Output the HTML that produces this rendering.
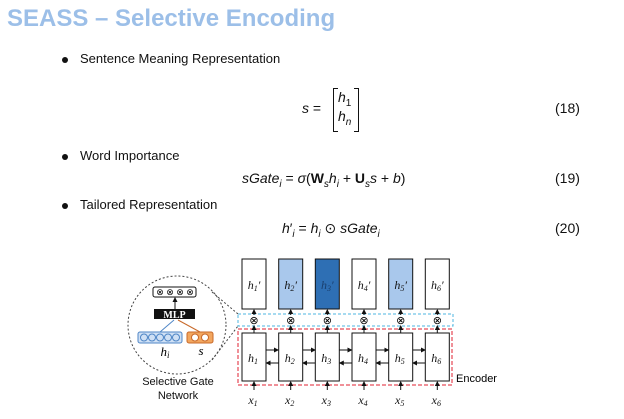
<!DOCTYPE html>
<html><head><style>
body{margin:0;width:624px;height:419px;background:#fff;overflow:hidden;position:relative;font-family:"Liberation Sans",sans-serif;}
.a{position:absolute;white-space:nowrap;}
.t{left:7px;top:5px;font-size:24px;font-weight:bold;color:#9cbfe8;}
.b{font-size:13px;color:#111;}
.dot{position:absolute;width:6px;height:6px;border-radius:50%;background:#111;}
.m{font-family:"Liberation Sans",sans-serif;font-size:14px;color:#111;}
</style></head><body>
<div class="a t">SEASS – Selective Encoding</div>
<div class="dot" style="left:62px;top:57px"></div><div class="a b" style="left:80px;top:51px">Sentence Meaning Representation</div>
<div class="dot" style="left:62px;top:154px"></div><div class="a b" style="left:80px;top:148px">Word Importance</div>
<div class="dot" style="left:62px;top:203px"></div><div class="a b" style="left:80px;top:197px">Tailored Representation</div>
<div class="a m" style="left:302px;top:100px"><i>s</i> =</div>
<div class="a" style="left:333px;top:88px;width:4px;height:42px;border:1px solid #111;border-right:none;"></div>
<div class="a" style="left:354px;top:88px;width:4px;height:42px;border:1px solid #111;border-left:none;"></div>
<div class="a m" style="left:338px;top:89px"><i>h</i><sub style="font-size:10px">1</sub></div>
<div class="a m" style="left:338px;top:108px"><i>h</i><sub style="font-size:10px"><i>n</i></sub></div>
<div class="a m" style="left:555px;top:100px">(18)</div>
<div class="a m" style="left:242px;top:170px"><i>sGate<sub style="font-size:10px">i</sub></i> = <i>σ</i>(<b>W</b><sub style="font-size:10px"><i>s</i></sub><i>h<sub style="font-size:10px">i</sub></i> + <b>U</b><sub style="font-size:10px"><i>s</i></sub><i>s</i> + <i>b</i>)</div>
<div class="a m" style="left:555px;top:170px">(19)</div>
<div class="a m" style="left:282px;top:220px"><i>h</i>′<sub style="font-size:10px"><i>i</i></sub> = <i>h<sub style="font-size:10px">i</sub></i> ⊙ <i>sGate<sub style="font-size:10px">i</sub></i></div>
<div class="a m" style="left:555px;top:220px">(20)</div>
<svg class="a" style="left:0;top:0" width="624" height="419" font-family="Liberation Serif,serif">
<defs><marker id="ar" markerWidth="5" markerHeight="5" refX="4" refY="2.5" orient="auto"><path d="M0,0L5,2.5L0,5z" fill="#111"/></marker></defs>
<circle cx="177" cy="325" r="49" fill="none" stroke="#444" stroke-dasharray="2,2"/>
<line x1="212" y1="292" x2="238" y2="314" stroke="#444" stroke-dasharray="2,2"/>
<line x1="212" y1="360" x2="238" y2="326" stroke="#444" stroke-dasharray="2,2"/>
<rect x="153" y="287" width="43" height="10" rx="2" fill="#fff" stroke="#111"/>
<g font-size="9" text-anchor="middle"><text x="160" y="295">⊗</text><text x="170" y="295">⊗</text><text x="180" y="295">⊗</text><text x="190" y="295">⊗</text></g>
<line x1="175" y1="309" x2="175" y2="298" stroke="#111" marker-end="url(#ar)"/>
<rect x="154" y="309" width="41" height="10" fill="#111"/>
<text x="174.5" y="318" font-size="10" fill="#fff" text-anchor="middle" font-weight="bold">MLP</text>
<rect x="138" y="332" width="44" height="11" rx="2" fill="#cfe0f5" stroke="#4f86c6"/>
<g fill="none" stroke="#4f86c6"><circle cx="144" cy="337.5" r="3.5"/><circle cx="152" cy="337.5" r="3.5"/><circle cx="160" cy="337.5" r="3.5"/><circle cx="168" cy="337.5" r="3.5"/><circle cx="176" cy="337.5" r="3.5"/></g>
<rect x="187" y="332" width="26" height="11" rx="2" fill="#f2a65f" stroke="#c8692a"/>
<g fill="#fff" stroke="#c8692a"><circle cx="195" cy="337.5" r="3.5"/><circle cx="205" cy="337.5" r="3.5"/></g>
<line x1="160" y1="332" x2="174" y2="320" stroke="#4f86c6"/>
<line x1="200" y1="332" x2="178" y2="320" stroke="#c8692a"/>
<text x="165" y="356" font-size="13" font-style="italic" text-anchor="middle">h<tspan font-size="9" dy="2">i</tspan></text>
<text x="201" y="355" font-size="13" font-style="italic" text-anchor="middle">s</text>
<g font-family="Liberation Sans,sans-serif" font-size="11" text-anchor="middle" fill="#111"><text x="178" y="385">Selective Gate</text><text x="178" y="399">Network</text></g>
<text x="456" y="382" font-family="Liberation Sans,sans-serif" font-size="11">Encoder</text>
<rect x="238" y="314" width="215" height="12" fill="none" stroke="#4cb6e0" stroke-dasharray="3,2"/>
<rect x="238" y="329" width="214" height="56" fill="none" stroke="#e02030" stroke-dasharray="4,2"/>
<g stroke="#111" fill="none">
<rect x="242" y="259" width="24" height="50" fill="#fff"/>
<rect x="278.7" y="259" width="24" height="50" fill="#a9c8ec"/>
<rect x="315.3" y="259" width="24" height="50" fill="#2e6fb4"/>
<rect x="352" y="259" width="24" height="50" fill="#fff"/>
<rect x="388.7" y="259" width="24" height="50" fill="#a9c8ec"/>
<rect x="425.3" y="259" width="24" height="50" fill="#fff"/>
<rect x="242" y="333" width="24" height="48" fill="#fff"/>
<rect x="278.7" y="333" width="24" height="48" fill="#fff"/>
<rect x="315.3" y="333" width="24" height="48" fill="#fff"/>
<rect x="352" y="333" width="24" height="48" fill="#fff"/>
<rect x="388.7" y="333" width="24" height="48" fill="#fff"/>
<rect x="425.3" y="333" width="24" height="48" fill="#fff"/>
</g>
<g font-size="12" font-style="italic" text-anchor="middle" fill="#111">
<text x="254" y="289">h<tspan font-size="8" dy="2">1</tspan><tspan dy="-2">′</tspan></text>
<text x="290.7" y="289">h<tspan font-size="8" dy="2">2</tspan><tspan dy="-2">′</tspan></text>
<text x="327.3" y="289" fill="#1a3f6e">h<tspan font-size="8" dy="2">3</tspan><tspan dy="-2">′</tspan></text>
<text x="364" y="289">h<tspan font-size="8" dy="2">4</tspan><tspan dy="-2">′</tspan></text>
<text x="400.7" y="289">h<tspan font-size="8" dy="2">5</tspan><tspan dy="-2">′</tspan></text>
<text x="437.3" y="289">h<tspan font-size="8" dy="2">6</tspan><tspan dy="-2">′</tspan></text>
<text x="253" y="362">h<tspan font-size="8" dy="2">1</tspan></text>
<text x="289.7" y="362">h<tspan font-size="8" dy="2">2</tspan></text>
<text x="326.3" y="362">h<tspan font-size="8" dy="2">3</tspan></text>
<text x="363" y="362">h<tspan font-size="8" dy="2">4</tspan></text>
<text x="399.7" y="362">h<tspan font-size="8" dy="2">5</tspan></text>
<text x="436.3" y="362">h<tspan font-size="8" dy="2">6</tspan></text>
<text x="253" y="404">x<tspan font-size="8" dy="2">1</tspan></text>
<text x="289.7" y="404">x<tspan font-size="8" dy="2">2</tspan></text>
<text x="326.3" y="404">x<tspan font-size="8" dy="2">3</tspan></text>
<text x="363" y="404">x<tspan font-size="8" dy="2">4</tspan></text>
<text x="399.7" y="404">x<tspan font-size="8" dy="2">5</tspan></text>
<text x="436.3" y="404">x<tspan font-size="8" dy="2">6</tspan></text>
</g>
<g font-size="11" text-anchor="middle">
<text x="254" y="324">⊗</text><text x="290.7" y="324">⊗</text><text x="327.3" y="324">⊗</text><text x="364" y="324">⊗</text><text x="400.7" y="324">⊗</text><text x="437.3" y="324">⊗</text>
</g>
<g stroke="#111" marker-end="url(#ar)">
<line x1="254" y1="315" x2="254" y2="310"/><line x1="290.7" y1="315" x2="290.7" y2="310"/><line x1="327.3" y1="315" x2="327.3" y2="310"/><line x1="364" y1="315" x2="364" y2="310"/><line x1="400.7" y1="315" x2="400.7" y2="310"/><line x1="437.3" y1="315" x2="437.3" y2="310"/>
<line x1="254" y1="333" x2="254" y2="326"/><line x1="290.7" y1="333" x2="290.7" y2="326"/><line x1="327.3" y1="333" x2="327.3" y2="326"/><line x1="364" y1="333" x2="364" y2="326"/><line x1="400.7" y1="333" x2="400.7" y2="326"/><line x1="437.3" y1="333" x2="437.3" y2="326"/>
<line x1="254" y1="390" x2="254" y2="382"/><line x1="290.7" y1="390" x2="290.7" y2="382"/><line x1="327.3" y1="390" x2="327.3" y2="382"/><line x1="364" y1="390" x2="364" y2="382"/><line x1="400.7" y1="390" x2="400.7" y2="382"/><line x1="437.3" y1="390" x2="437.3" y2="382"/>
<line x1="266" y1="350" x2="278" y2="350"/><line x1="302.7" y1="350" x2="315" y2="350"/><line x1="339.3" y1="350" x2="351.5" y2="350"/><line x1="376" y1="350" x2="388.3" y2="350"/><line x1="412.7" y1="350" x2="425" y2="350"/>
<line x1="278.7" y1="363" x2="266.5" y2="363"/><line x1="315.3" y1="363" x2="303" y2="363"/><line x1="352" y1="363" x2="339.8" y2="363"/><line x1="388.7" y1="363" x2="376.5" y2="363"/><line x1="425.3" y1="363" x2="413" y2="363"/>
</g>
</svg>
</body></html>
